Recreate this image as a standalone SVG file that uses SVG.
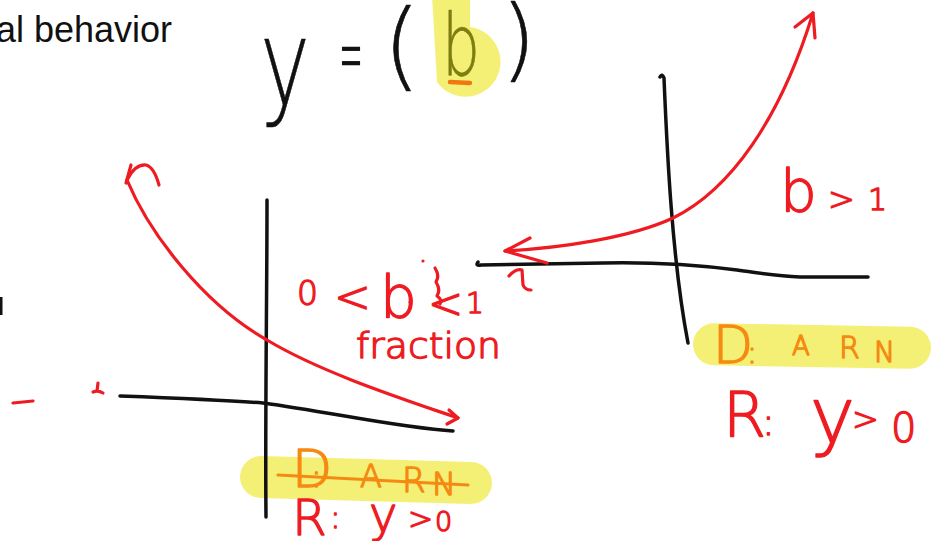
<svg xmlns="http://www.w3.org/2000/svg" width="934" height="541" viewBox="0 0 934 541">
<style>
.ink{fill:none;stroke:#111;stroke-width:3.5;stroke-linecap:round;stroke-linejoin:round}
.red{fill:none;stroke:#ee1c22;stroke-width:3.2;stroke-linecap:round;stroke-linejoin:round}
.org{fill:none;stroke:#f58a12;stroke-width:3.2;stroke-linecap:round}
.hl{fill:#f2ed5e;opacity:.85}
.hw{font-family:"DejaVu Sans","Liberation Sans",sans-serif;font-weight:200;stroke-width:1.4;stroke-linejoin:round}
.big{stroke-width:.6}
.tr{fill:#ee1c22;stroke:#ee1c22}
.to{fill:#f58a12;stroke:#f58a12}
.tk{fill:#111;stroke:#111}
</style>
<rect width="934" height="541" fill="#fff"/>
<g id="header">
<text x="172" y="42" text-anchor="end" font-family="Liberation Sans, Arial, sans-serif" font-size="36" fill="#111">al behavior</text>
</g>
<g id="equation">
<path class="hl" d="M432,-5 H470 V27 A35,35 0 1 1 437,82 Z"/>
<text class="hw big tk" x="260" y="104" font-size="120" textLength="50" lengthAdjust="spacingAndGlyphs">y</text>
<text class="hw big tk" x="339" y="85" font-size="90" textLength="24" lengthAdjust="spacingAndGlyphs">=</text>
<text class="hw big tk" x="383" y="78" font-size="96">(</text>
<text class="hw big" x="442" y="75" font-size="85" fill="#7d7d10" stroke="#7d7d10" textLength="38" lengthAdjust="spacingAndGlyphs">b</text>
<path d="M450,82 L470,83" stroke="#f07810" stroke-width="4.5" stroke-linecap="round" fill="none"/>
<text class="hw big tk" x="501" y="70" font-size="90">)</text>
</g>
<g id="graph-left">
<rect class="hl" x="240" y="459" width="252" height="42" rx="21" transform="rotate(1.6 366 480)"/>
<path class="ink" d="M267,200 C267,300 265,420 266,517"/>
<path class="ink" d="M120,396 C200,399 250,402 263,403 C330,412 400,428 453,431"/>
<path class="red" d="M127,180 C150,235 205,305 267,340 C320,372 400,398 458,418"/>
<path class="red" d="M126,183 L131,165 M127,180 Q135,164 146,165 Q154,167 159,185"/>
<path class="red" d="M449,410 L458,418 L447,424"/>
<text class="hw tr" y="305"><tspan x="297" font-size="33">0</tspan> <tspan x="334" y="312" font-size="44">&lt;</tspan> <tspan x="380" y="318" font-size="58">b</tspan> <tspan x="428" y="318" font-size="42">&lt;</tspan> <tspan x="466" y="313" font-size="28">1</tspan></text>
<path class="red" d="M435,268 Q440,276 436,282 Q441,290 437,296 Q443,300 440,304" stroke-width="2.5"/>
<circle cx="423" cy="261" r="1.6" fill="#ee1c22"/>
<circle cx="410" cy="302" r="1.6" fill="#ee1c22"/>
<text class="hw tr" x="356" y="358" font-size="36" textLength="145" lengthAdjust="spacingAndGlyphs">fraction</text>
<text class="hw to" y="490"><tspan x="292" y="487" font-size="52">D</tspan><tspan x="311" font-size="32">:</tspan> <tspan x="360" font-size="32">A</tspan><tspan x="402" y="492" font-size="34">R</tspan><tspan x="432" y="495" font-size="32">N</tspan></text>
<path class="org" d="M278,475 L468,485"/>
<text class="hw tr" y="535"><tspan x="292" font-size="50">R</tspan><tspan x="330" y="528" font-size="32">:</tspan> <tspan x="369" y="531" font-size="48">y</tspan><tspan x="408" y="529" font-size="30">&gt;</tspan><tspan x="435" y="531" font-size="27">0</tspan></text>
</g>
<g id="graph-right">
<rect class="hl" x="693" y="325" width="238" height="42" rx="21" transform="rotate(1 812 346)"/>
<path class="ink" d="M660,77 Q662,73 664,78 C667,150 672,260 688,343"/>
<path class="ink" d="M478,262 Q475,266 481,265 L603,263 C650,262 690,264 737,270 C760,273 775,276 800,277 L868,277"/>
<path class="red" d="M505,251 C560,248 630,238 673,218 C730,190 780,120 813,13"/>
<path class="red" d="M795,27 L813,13 L815,38"/>
<path class="red" d="M530,238 L505,251 L547,263"/>
<path class="red" d="M509,276 Q516,268 522,270 L523,285 Q525,290 531,290"/>
<text class="hw tr" y="212"><tspan x="780" font-size="58">b</tspan> <tspan x="828" y="210" font-size="32">&gt;</tspan> <tspan x="868" font-size="30">1</tspan></text>
<text class="hw to" y="360"><tspan x="713" y="363" font-size="52">D</tspan><tspan x="747" font-size="30">:</tspan> <tspan x="792" y="355" font-size="26">A</tspan><tspan x="839" y="358" font-size="30">R</tspan><tspan x="874" y="362" font-size="28">N</tspan></text>
<text class="hw tr" y="437"><tspan x="723" font-size="62">R</tspan><tspan x="762" y="435" font-size="38">:</tspan> <tspan x="810" y="442" font-size="76">y</tspan><tspan x="852" y="430" font-size="32">&gt;</tspan><tspan x="891" y="442" font-size="40">0</tspan></text>
</g>
<g id="stray-marks">
<rect x="0" y="297" width="2.5" height="18" fill="#111"/>
<path class="red" d="M13,403 L33,401"/>
<path class="red" d="M93,392 Q98,390 103,393 M98,383 L97,391"/>
</g>
</svg>
